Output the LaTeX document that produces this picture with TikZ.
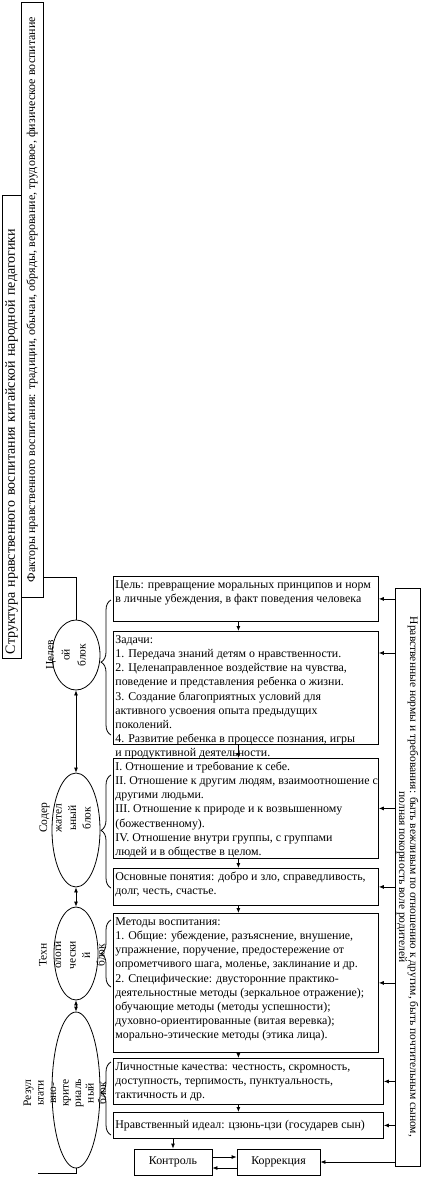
\documentclass[tikz,border=0pt]{standalone}
\usepackage{fontspec}
\setmainfont{Liberation Serif}
\usetikzlibrary{arrows.meta,shapes.geometric,decorations.pathreplacing,calc}

\newcommand{\bodyfont}{\fontsize{11.9}{14.2}\selectfont}
\newcommand{\toptext}[3]{\parbox[c][#1][t]{#2}{\begin{tabular}[t]{@{}l@{}}#3\end{tabular}}}

\begin{document}
\begin{tikzpicture}[x=1pt, y=-1pt,
  box/.style={rectangle, draw=black, line width=0.8pt, inner sep=2pt,
    anchor=north west, font=\bodyfont},
  smallbox/.style={rectangle, draw=black, line width=0.8pt,
    minimum height=26pt, inner sep=2pt, font=\bodyfont},
  sidebox/.style={rectangle, draw=black, line width=0.8pt,
    inner sep=2pt, align=center},
  blockell/.style={ellipse, draw=black, line width=0.8pt, inner sep=0pt},
  blocklabel/.style={rotate=90, align=center, inner sep=0pt,
    font=\fontsize{11.5}{14.5}\selectfont},
  link/.style={line width=0.8pt},
  arrow/.style={-{Latex[length=5pt,width=4pt]}, line width=0.8pt},
  dblarrow/.style={{Latex[length=5pt,width=4pt]}-{Latex[length=5pt,width=4pt]},
    line width=0.8pt},
  bracket/.style={decorate, decoration={brace, amplitude=10pt}, line width=0.8pt},
]
\useasboundingbox (0,0) rectangle (423,1179);

% left title boxes
\node[sidebox, rotate=90, minimum width=463pt, minimum height=19pt,
  text width=455pt, align=left, font=\fontsize{14}{16}\selectfont]
  (structure) at (11.5,426.5)
  {Структура нравственного воспитания китайской народной педагогики};
\node[sidebox, rotate=90, minimum width=595pt, minimum height=22pt,
  font=\fontsize{12}{14}\selectfont] (factors) at (32,299.5)
  {Факторы нравственного воспитания: традиции, обычаи, обряды, верование, трудовое, физическое воспитание};

% blocks
\node[blockell, minimum width=48pt, minimum height=70pt] (goalblock) at (76,655) {};
\node[blockell, minimum width=48pt, minimum height=114pt] (contblock) at (76,830) {};
\node[blockell, minimum width=44pt, minimum height=93pt] (techblock) at (76,953.5) {};
\node[blockell, minimum width=48pt, minimum height=156pt] (resblock) at (76,1090) {};

\node[blocklabel, font=\fontsize{11.5}{16}\selectfont] (goaltext) at (66,655)
  {Целев\\ой\\блок};
\node[blocklabel] (conttext) at (65,818) {Содер\\жател\\ьный\\блок};
\node[blocklabel] (techtext) at (72,955) {Техн\\ологи\\чески\\й\\блок};
\node[blocklabel, font=\fontsize{11.5}{12.5}\selectfont] (restext) at (65,1093)
  {Резул\\ьтати\\вно-\\крите\\риаль\\ный\\блок};

\coordinate (factorsjoin) at ($(factors.south west)+(0,-20)$);
\draw[link] (factorsjoin) -| (goalblock.north);
\draw[dblarrow] (goalblock) -- (contblock);
\draw[dblarrow] (contblock) -- (techblock);
\draw[dblarrow] (techblock) -- (resblock);
\coordinate (restail) at (38,1173);
\draw[link] (resblock.south) |- (restail);

% content boxes
\node[box] (goal) at (113,576) {\toptext{41pt}{261pt}{%
  Цель: превращение моральных принципов и норм\\
  в личные убеждения, в факт поведения человека}};
\node[box] (tasks) at (113,631) {\toptext{109pt}{261pt}{%
  Задачи:\\
  1. Передача знаний детям о нравственности.\\
  2. Целенаправленное воздействие на чувства,\\
  поведение и представления ребенка о жизни.\\
  3. Создание благоприятных условий для\\
  активного усвоения опыта предыдущих\\
  поколений.\\
  4. Развитие ребенка в процессе познания, игры\\
  и продуктивной деятельности.}};
\node[box] (relations) at (113,758) {\toptext{96pt}{261pt}{%
  I. Отношение и требование к себе.\\
  II. Отношение к другим людям, взаимоотношение с\\
  другими людьми.\\
  III. Отношение к природе и к возвышенному\\
  (божественному).\\
  IV. Отношение внутри группы, с группами\\
  людей и в обществе в целом.}};
\node[box] (concepts) at (113,868) {\toptext{33pt}{261pt}{%
  Основные понятия: добро и зло, справедливость,\\
  долг, честь, счастье.}};
\node[box] (methods) at (113,913) {\toptext{135pt}{261pt}{%
  Методы воспитания:\\
  1. Общие: убеждение, разъяснение, внушение,\\
  упражнение, поручение, предостережение от\\
  опрометчивого шага, моленье, заклинание и др.\\
  2. Специфические: двусторонние практико-\\
  деятельностные методы (зеркальное отражение);\\
  обучающие методы (методы успешности);\\
  духовно-ориентированные (витая веревка);\\
  морально-этические методы (этика лица).}};
\node[box] (qualities) at (113,1058) {\toptext{42pt}{266pt}{%
  Личностные качества: честность, скромность,\\
  доступность, терпимость, пунктуальность,\\
  тактичность и др.}};
\node[box] (ideal) at (113,1112) {\parbox[c][22pt][c]{266pt}{%
  Нравственный идеал: цзюнь-цзи (государев сын)}};

\node[smallbox, minimum width=78pt] (control) at (173,1162) {Контроль};
\node[smallbox, minimum width=83pt] (correction) at (278.5,1162) {Коррекция};

% right box
\node[sidebox, rotate=-90, minimum width=578pt, minimum height=25pt, inner sep=1pt,
  font=\fontsize{11.5}{11}\selectfont] (norms) at (407.5,877)
  {Нравственные нормы и требования: быть вежливым по отношению к другим, быть почтительным сыном,\\
   полная покорность воле родителей};

% brackets
\draw[bracket, decoration={aspect=0.54}] (111,735) -- (111,600);
\draw[bracket, decoration={aspect=0.51}] (111,888) -- (111,775);
\draw[bracket, decoration={aspect=0.5}] (111,987) -- (111,920);
\draw[bracket, decoration={aspect=0.58}] (111,1135) -- (111,1062);

% arrows between boxes
\draw[arrow] ([xshift=-7.5pt]goal.south) -- ([xshift=-7.5pt]tasks.north);
\draw[arrow] ([xshift=-7.5pt]tasks.south) -- ([xshift=-7.5pt]relations.north);
\draw[arrow] ([xshift=-7.5pt]relations.south) -- ([xshift=-7.5pt]concepts.north);
\draw[arrow] ([xshift=-7.5pt]concepts.south) -- ([xshift=-7.5pt]methods.north);
\draw[arrow] ([xshift=-7.5pt]methods.south) -- ([xshift=-10pt]qualities.north);
\draw[arrow] ([xshift=-10pt]qualities.south) -- ([xshift=-10pt]ideal.north);
\draw[arrow] (ideal.south -| control.north) -- (control.north);
\draw[arrow] ([yshift=5pt]control.east) -- ([yshift=5pt]correction.west);
\draw[arrow] ([yshift=-6pt]correction.west) -- ([yshift=-6pt]control.east);

% arrows from the norms box
\coordinate (tasksin) at ($(tasks.north east)+(0,22)$);
\draw[arrow] (norms.south |- goal.east) -- (goal.east);
\draw[arrow] (norms.south |- tasksin) -- (tasksin);
\draw[arrow] (norms.south |- relations.east) -- (relations.east);
\draw[arrow] (norms.south |- concepts.east) -- (concepts.east);
\draw[arrow] (norms.south |- methods.east) -- (methods.east);
\draw[arrow] (norms.south |- qualities.east) -- (qualities.east);
\draw[arrow] (norms.south |- ideal.east) -- (ideal.east);
\draw[arrow] (norms.south |- correction.east) -- (correction.east);

\end{tikzpicture}
\end{document}
